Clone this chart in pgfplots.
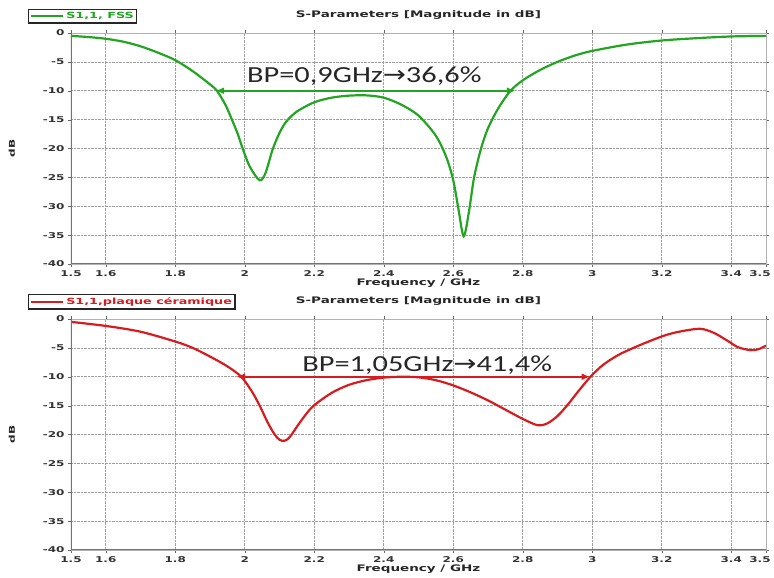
\documentclass[border=0pt]{standalone}
\usepackage{pgfplots}
\pgfplotsset{compat=1.18}
\usetikzlibrary{arrows.meta}
\usepackage{fontspec}
\setmainfont{DejaVu Sans}[FakeStretch=1.5]
\newfontfamily\annfont{Carlito}[FakeStretch=1.32]
\newfontfamily\symfont{DejaVu Sans}[FakeStretch=1.2]
\definecolor{fssgreen}{RGB}{35,165,35}
\definecolor{cerred}{RGB}{215,28,32}
\pgfplotsset{
  myax/.style={
    scale only axis, width=695pt, height=231pt,
    xmin=1.5, xmax=3.5, ymin=-40, ymax=0,
    xtick={1.5,1.6,1.8,2,2.2,2.4,2.6,2.8,3,3.2,3.4,3.5},
    xticklabels={1.5,1.6,1.8,2,2.2,2.4,2.6,2.8,3,3.2,3.4,\kern-12pt3.5},
    ytick={0,-5,-10,-15,-20,-25,-30,-35,-40},
    /pgf/number format/assume math mode=true,
    ticklabel style={font=\fontsize{8}{9}\selectfont\bfseries, text=black!80},
    grid=major,
    major grid style={densely dotted, gray!75, line width=0.7pt},
    axis line style={gray!60, line width=0.8pt},
    tick style={black!60},
    tick align=outside,
    major tick length=3pt,
    xlabel={Frequency / GHz},
    xlabel style={font=\fontsize{9}{10}\selectfont\bfseries, text=black!85, yshift=5pt},
    ylabel={dB},
    ylabel style={at={(axis description cs:-0.085,0.5)}, anchor=center,
      font=\fontsize{8}{9}\selectfont\bfseries, text=black!85},
    title={S-Parameters [Magnitude in dB]},
    title style={font=\fontsize{9}{10}\selectfont\bfseries, text=black!85, yshift=4pt},
    legend style={at={(-0.062,1.04)}, anchor=south west, draw=black!85, line width=1.3pt,
      inner sep=1pt, font=\fontsize{8.5}{9}\selectfont\bfseries},
    legend cell align=left,
    legend image code/.code={\draw[#1, line width=2pt] (0cm,0cm) -- (1.15cm,0cm);},
  }
}
\begin{document}
\begin{tikzpicture}
\begin{axis}[myax, at={(71pt,314pt)}, anchor=south west,
  legend style={text=fssgreen}]
\addplot[fssgreen, line width=2.2pt, smooth, tension=0.5] coordinates {
(1.5,-0.5) (1.55,-0.7) (1.6,-1.0) (1.65,-1.5) (1.7,-2.3) (1.75,-3.4) (1.8,-4.7)
(1.85,-6.6) (1.9,-8.9) (1.92,-10.0) (1.945,-12.5) (1.963,-15.0) (1.98,-17.5) (1.994,-20.0)
(2.015,-23.2) (2.043,-25.5) (2.06,-24.2) (2.08,-20.2) (2.1,-17.3) (2.12,-15.3)
(2.15,-13.6) (2.2,-12.0) (2.25,-11.2) (2.3,-10.85) (2.35,-10.8) (2.4,-11.2)
(2.45,-12.4) (2.5,-14.3) (2.55,-17.8) (2.58,-21.5) (2.6,-25.5)
(2.615,-30.5) (2.63,-35.2) (2.645,-31.0) (2.66,-25.0) (2.68,-20.0) (2.7,-16.5) (2.73,-13.0)
(2.765,-10.0) (2.8,-8.2) (2.85,-6.4) (2.9,-5.0) (2.95,-3.9) (3.0,-3.1) (3.1,-2.0) (3.2,-1.3)
(3.3,-0.9) (3.4,-0.6) (3.5,-0.5)
};
\addlegendentry{S1,1, FSS}
\draw[fssgreen, line width=2pt, {Latex[length=9pt,width=7pt]}-{Latex[length=9pt,width=7pt]}] (axis cs:1.915,-10) -- (axis cs:2.78,-10);
\node[text=black!85, font=\annfont\fontsize{23}{26}\selectfont, anchor=base] at (axis cs:2.344,-8.6) {BP=0,9GHz{\symfont→}36,6\%};
\draw[black!55, line width=1.3pt] (rel axis cs:0,1) -- (rel axis cs:0,0) -- (rel axis cs:1,0);
\end{axis}
\begin{axis}[myax, at={(71pt,28pt)}, anchor=south west,
  legend style={text=cerred}]
\addplot[cerred, line width=2.2pt, smooth, tension=0.5] coordinates {
(1.5,-0.5) (1.6,-1.2) (1.7,-2.2) (1.8,-3.9) (1.85,-5.0) (1.9,-6.5) (1.95,-8.2) (1.99,-10.0)
(2.02,-12.5) (2.043,-15.0) (2.065,-17.8) (2.086,-20.0) (2.1,-20.9) (2.114,-21.1) (2.13,-20.4)
(2.16,-17.8) (2.195,-15.2) (2.25,-12.8) (2.3,-11.4) (2.35,-10.6) (2.4,-10.15) (2.45,-10.0)
(2.5,-10.1) (2.55,-10.6) (2.6,-11.5) (2.65,-12.7) (2.7,-14.1) (2.75,-15.7) (2.8,-17.3)
(2.843,-18.4) (2.87,-18.1) (2.9,-16.8) (2.93,-14.8) (2.96,-12.5) (2.995,-10.0) (3.03,-8.0)
(3.07,-6.4) (3.1,-5.5) (3.15,-4.2) (3.206,-2.9) (3.25,-2.2) (3.31,-1.7) (3.35,-2.4)
(3.39,-3.8) (3.42,-4.9) (3.456,-5.4) (3.48,-5.2) (3.5,-4.6)
};
\addlegendentry{S1,1,plaque céramique}
\draw[cerred, line width=2pt, {Latex[length=9pt,width=7pt]}-{Latex[length=9pt,width=7pt]}] (axis cs:1.975,-10) -- (axis cs:2.995,-10);
\node[text=black!85, font=\annfont\fontsize{23}{26}\selectfont, anchor=base] at (axis cs:2.525,-9.1) {BP=1,05GHz{\symfont→}41,4\%};
\draw[black!55, line width=1.3pt] (rel axis cs:0,1) -- (rel axis cs:0,0) -- (rel axis cs:1,0);
\end{axis}
\pgfresetboundingbox
\path[use as bounding box] (0,0) rectangle (774pt,578pt);
\end{tikzpicture}
\end{document}
